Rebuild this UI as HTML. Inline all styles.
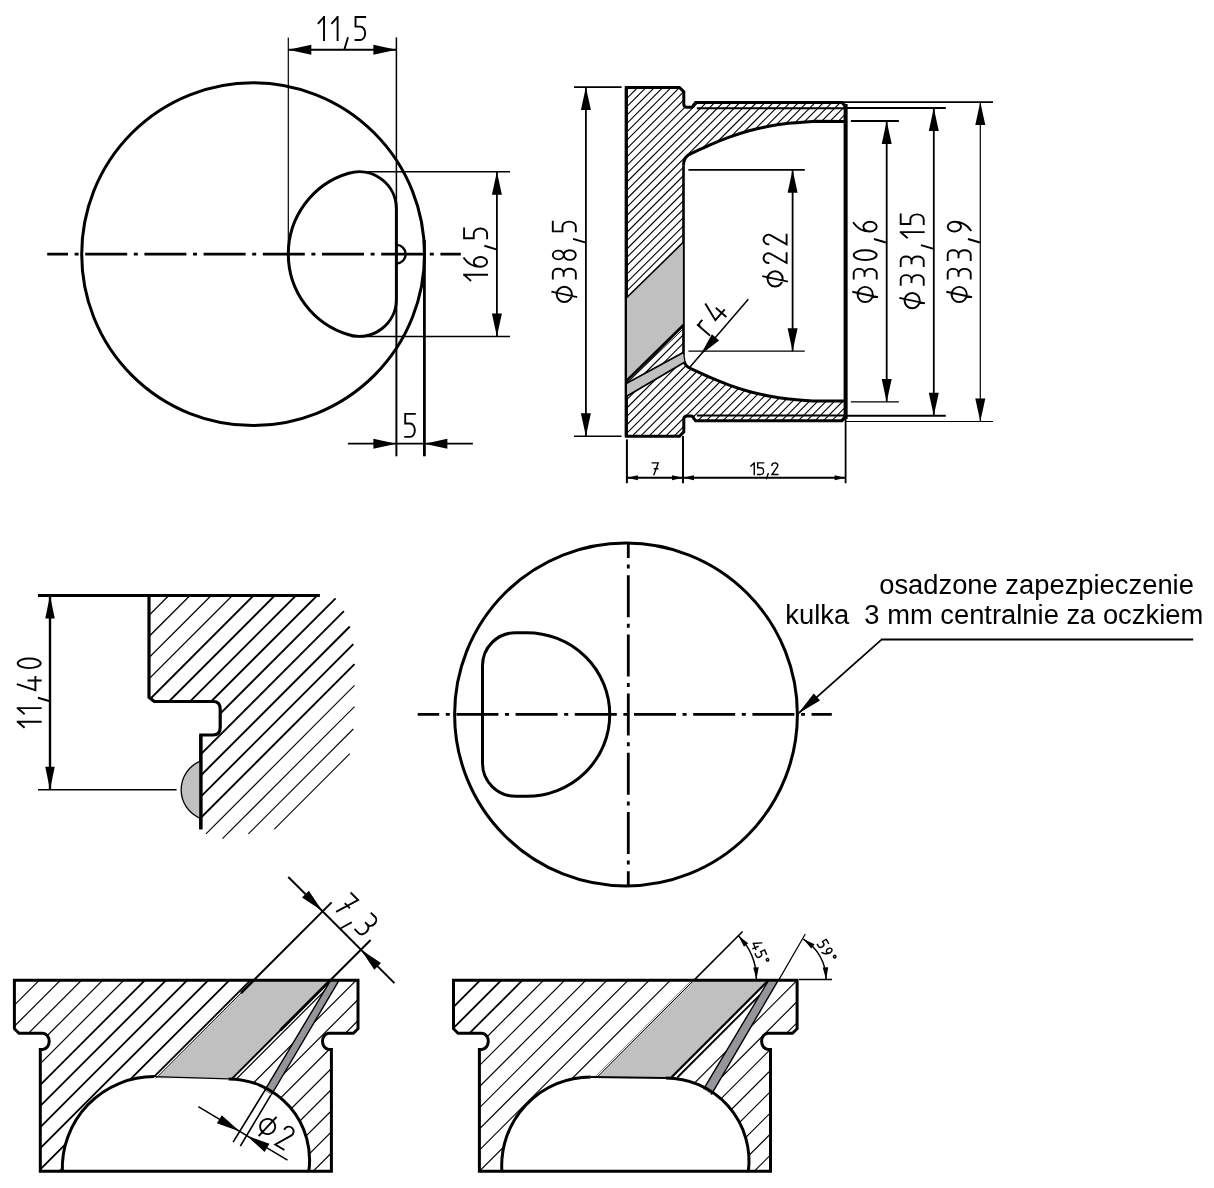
<!DOCTYPE html>
<html><head><meta charset="utf-8"><title>drawing</title>
<style>html,body{margin:0;padding:0;background:#fff;}body{width:1214px;height:1188px;overflow:hidden;font-family:"Liberation Sans",sans-serif;}svg{display:block;}.t{font-family:"Liberation Sans",sans-serif;fill:#000;stroke:none;}</style></head><body>
<svg width="1214" height="1188" viewBox="0 0 1214 1188" stroke="#000" fill="none" stroke-linecap="butt" shape-rendering="geometricPrecision">
<defs><clipPath id="cB"><path clip-rule="evenodd" d="M626.3,87.4 L679.4,87.4 L683.8,91.6 L683.8,104.2 Q683.8,107.3 687.3,107.3 L690.5,107.3 Q693.6,107.3 693.6,105 L695.6,102.6 L842,102.6 L845.6,106.2 L845.6,417.1 L842,420.7 L695.6,420.7 L693.6,418.3 Q693.6,416 690.5,416 L687.3,416 Q683.8,416 683.8,419.1 L683.8,431.9 L679.4,436.2 L626.3,436.2 Z M683.5,165.4 Q683.5,156.3 691.3,153.5 C694.33,152.1 703.17,147.82 709.5,145.1 C715.83,142.38 722.7,139.58 729.3,137.2 C735.9,134.82 742.52,132.62 749.1,130.8 C755.68,128.98 762.22,127.55 768.8,126.3 C775.38,125.05 781.07,124.13 788.6,123.3 C796.13,122.47 809.77,121.63 814,121.3 L845.6,121.3 L845.6,401.0 L814,401.0 C809.77,400.67 796.13,399.83 788.6,399 C781.07,398.17 775.38,397.25 768.8,396 C762.22,394.75 755.68,393.32 749.1,391.5 C742.52,389.68 735.9,387.48 729.3,385.1 C722.7,382.72 715.83,379.92 709.5,377.2 C703.17,374.48 694.33,370.2 691.3,368.8 Q683.5,365.8 683.5,356.9 Z"/></clipPath>
<clipPath id="cC1"><path d="M149,595.9 L319.9,595.9 L500,595.9 L500,900 L200.8,900 L200.8,735 L213.1,735 Q220.2,735 220.2,727.5 L220.2,709 Q220.2,701.5 213.1,701.5 L154.2,701.5 L149,697.3 Z"/></clipPath>
<filter id="nolcd" x="-5%" y="-20%" width="110%" height="140%"><feOffset dx="0" dy="0"/></filter>
<clipPath id="cE"><path d="M14.4,980.3 L358,980.3 L358,1028.7 L353.4,1033.2 L329,1033.2 A6.5,8.1 0 1 0 329,1049.4 L331.4,1049.4 L331.4,1171.3 L308.81,1171.3 A81.1,81.1 0 0 0 228.5,1078.9 L154,1076.6 A91.7,91.7 0 0 0 62.35,1171.3 L40.3,1171.3 L40.3,1049.4 L42.7,1049.4 A6.5,8.1 0 1 0 42.7,1033.2 L19,1033.2 L14.4,1028.7 Z"/></clipPath>
<clipPath id="cF"><path d="M453.5,980.3 L797.1,980.3 L797.1,1028.7 L792.5,1033.2 L768.1,1033.2 A6.5,8.1 0 1 0 768.1,1049.4 L770.5,1049.4 L770.5,1171.3 L748.37,1171.3 A83.1,83.1 0 0 0 665.9,1078 L590.7,1076.9 A89,89 0 0 0 501.86,1171.3 L479.4,1171.3 L479.4,1049.4 L481.8,1049.4 A6.5,8.1 0 1 0 481.8,1033.2 L458.1,1033.2 L453.5,1028.7 Z"/></clipPath></defs>
<circle cx="253.1" cy="254.2" r="171.4" stroke-width="3"/>
<path d="M396.4,208.97 L396.4,299.13 A37.2,37.2 0 0 1 348.67,334.81 A84.2,84.2 0 0 1 348.67,173.29 A37.2,37.2 0 0 1 396.4,208.97 Z" stroke-width="3" fill="none" />
<path d="M396.4,244.9 A9.3,9.3 0 0 1 396.4,263.5" stroke-width="2.4" fill="none" />
<line x1="47.2" y1="254.2" x2="460.8" y2="254.2" stroke-width="2.8" stroke-dasharray="42 6.6 4 6.6" stroke-dashoffset="21.2"/>
<line x1="288.3" y1="37.4" x2="288.3" y2="254" stroke-width="1.2" />
<line x1="396.4" y1="37.4" x2="396.4" y2="207" stroke-width="1.5" />
<line x1="396.4" y1="301" x2="396.4" y2="456.3" stroke-width="2" />
<line x1="424.4" y1="240" x2="424.4" y2="456.3" stroke-width="2.8" />
<line x1="288.3" y1="49.7" x2="396.4" y2="49.7" stroke-width="2" />
<polygon points="288.3,49.7 311.3,44.7 311.3,54.7" fill="#000" stroke="none"/>
<polygon points="396.4,49.7 373.4,54.7 373.4,44.7" fill="#000" stroke="none"/>
<g transform="translate(318.5,40) rotate(0)" stroke-linecap="square" stroke-linejoin="miter" fill="none">
<path transform="translate(0,0) scale(2.3,2.3)" d="M0,-7.3 L2.15,-9.72 M2.4,-10 L2.4,0" stroke-width="1.9" vector-effect="non-scaling-stroke"/>
<path transform="translate(13.57,0) scale(2.3,2.3)" d="M0,-7.3 L2.15,-9.72 M2.4,-10 L2.4,0" stroke-width="1.9" vector-effect="non-scaling-stroke"/>
<path transform="translate(27.14,0) scale(2.3,2.3)" d="M0.9,-0.8 L-0.4,3.6" stroke-width="1.9" vector-effect="non-scaling-stroke"/>
<path transform="translate(37.03,0) scale(2.3,2.3)" d="M4.2,-10 L0,-10 L0,-5.8 L2.1,-5.8 A2.1,2.9 0 0 1 2.1,0 L0,0" stroke-width="1.9" vector-effect="non-scaling-stroke"/>
</g>
<line x1="356" y1="171.7" x2="510" y2="171.7" stroke-width="1.5" />
<line x1="351" y1="336.4" x2="510" y2="336.4" stroke-width="1.5" />
<line x1="496.9" y1="171.7" x2="496.9" y2="336.4" stroke-width="1.8" />
<polygon points="496.9,171.7 501.9,194.7 491.9,194.7" fill="#000" stroke="none"/>
<polygon points="496.9,336.4 491.9,313.4 501.9,313.4" fill="#000" stroke="none"/>
<g transform="translate(487.1,280.3) rotate(-90)" stroke-linecap="square" stroke-linejoin="miter" fill="none">
<path transform="translate(0,0) scale(2.3,2.3)" d="M0,-7.3 L2.15,-9.72 M2.4,-10 L2.4,0" stroke-width="1.9" vector-effect="non-scaling-stroke"/>
<path transform="translate(13.57,0) scale(2.3,2.3)" d="M3.7,-10 C1.6,-8.6 0,-6 0,-2.9 A2.1,2.9 0 1 0 4.2,-2.9 A2.1,2.9 0 1 0 0,-2.9" stroke-width="1.9" vector-effect="non-scaling-stroke"/>
<path transform="translate(32.2,0) scale(2.3,2.3)" d="M0.9,-0.8 L-0.4,3.6" stroke-width="1.9" vector-effect="non-scaling-stroke"/>
<path transform="translate(42.09,0) scale(2.3,2.3)" d="M4.2,-10 L0,-10 L0,-5.8 L2.1,-5.8 A2.1,2.9 0 0 1 2.1,0 L0,0" stroke-width="1.9" vector-effect="non-scaling-stroke"/>
</g>
<line x1="347.9" y1="443.7" x2="472.9" y2="443.7" stroke-width="1.8" />
<polygon points="396.4,443.7 373.4,448.7 373.4,438.7" fill="#000" stroke="none"/>
<polygon points="424.4,443.7 447.4,438.7 447.4,448.7" fill="#000" stroke="none"/>
<g transform="translate(405.2,436.9) rotate(0)" stroke-linecap="square" stroke-linejoin="miter" fill="none">
<path transform="translate(0,0) scale(2.3,2.3)" d="M4.2,-10 L0,-10 L0,-5.8 L2.1,-5.8 A2.1,2.9 0 0 1 2.1,0 L0,0" stroke-width="1.9" vector-effect="non-scaling-stroke"/>
</g>
<g clip-path="url(#cB)">
<line x1="620.09" y1="80" x2="260.09" y2="440" stroke-width="1.1" />
<line x1="628.46" y1="80" x2="268.46" y2="440" stroke-width="1.1" />
<line x1="636.83" y1="80" x2="276.83" y2="440" stroke-width="1.1" />
<line x1="645.2" y1="80" x2="285.2" y2="440" stroke-width="1.1" />
<line x1="653.57" y1="80" x2="293.57" y2="440" stroke-width="1.1" />
<line x1="661.94" y1="80" x2="301.94" y2="440" stroke-width="1.1" />
<line x1="670.31" y1="80" x2="310.31" y2="440" stroke-width="1.1" />
<line x1="678.68" y1="80" x2="318.68" y2="440" stroke-width="1.1" />
<line x1="687.05" y1="80" x2="327.05" y2="440" stroke-width="1.1" />
<line x1="695.42" y1="80" x2="335.42" y2="440" stroke-width="1.1" />
<line x1="703.79" y1="80" x2="343.79" y2="440" stroke-width="1.1" />
<line x1="712.16" y1="80" x2="352.16" y2="440" stroke-width="1.1" />
<line x1="720.53" y1="80" x2="360.53" y2="440" stroke-width="1.1" />
<line x1="728.9" y1="80" x2="368.9" y2="440" stroke-width="1.1" />
<line x1="737.27" y1="80" x2="377.27" y2="440" stroke-width="1.1" />
<line x1="745.64" y1="80" x2="385.64" y2="440" stroke-width="1.1" />
<line x1="754.01" y1="80" x2="394.01" y2="440" stroke-width="1.1" />
<line x1="762.38" y1="80" x2="402.38" y2="440" stroke-width="1.1" />
<line x1="770.75" y1="80" x2="410.75" y2="440" stroke-width="1.1" />
<line x1="779.12" y1="80" x2="419.12" y2="440" stroke-width="1.1" />
<line x1="787.49" y1="80" x2="427.49" y2="440" stroke-width="1.1" />
<line x1="795.86" y1="80" x2="435.86" y2="440" stroke-width="1.1" />
<line x1="804.23" y1="80" x2="444.23" y2="440" stroke-width="1.1" />
<line x1="812.6" y1="80" x2="452.6" y2="440" stroke-width="1.1" />
<line x1="820.97" y1="80" x2="460.97" y2="440" stroke-width="1.1" />
<line x1="829.34" y1="80" x2="469.34" y2="440" stroke-width="1.1" />
<line x1="837.71" y1="80" x2="477.71" y2="440" stroke-width="1.1" />
<line x1="846.08" y1="80" x2="486.08" y2="440" stroke-width="1.1" />
<line x1="854.45" y1="80" x2="494.45" y2="440" stroke-width="1.1" />
<line x1="862.82" y1="80" x2="502.82" y2="440" stroke-width="1.1" />
<line x1="871.19" y1="80" x2="511.19" y2="440" stroke-width="1.1" />
<line x1="879.56" y1="80" x2="519.56" y2="440" stroke-width="1.1" />
<line x1="887.93" y1="80" x2="527.93" y2="440" stroke-width="1.1" />
<line x1="896.3" y1="80" x2="536.3" y2="440" stroke-width="1.1" />
<line x1="904.67" y1="80" x2="544.67" y2="440" stroke-width="1.1" />
<line x1="913.04" y1="80" x2="553.04" y2="440" stroke-width="1.1" />
<line x1="921.41" y1="80" x2="561.41" y2="440" stroke-width="1.1" />
<line x1="929.78" y1="80" x2="569.78" y2="440" stroke-width="1.1" />
<line x1="938.15" y1="80" x2="578.15" y2="440" stroke-width="1.1" />
<line x1="946.52" y1="80" x2="586.52" y2="440" stroke-width="1.1" />
<line x1="954.89" y1="80" x2="594.89" y2="440" stroke-width="1.1" />
<line x1="963.26" y1="80" x2="603.26" y2="440" stroke-width="1.1" />
<line x1="971.63" y1="80" x2="611.63" y2="440" stroke-width="1.1" />
<line x1="980" y1="80" x2="620" y2="440" stroke-width="1.1" />
<line x1="988.37" y1="80" x2="628.37" y2="440" stroke-width="1.1" />
<line x1="996.74" y1="80" x2="636.74" y2="440" stroke-width="1.1" />
<line x1="1005.11" y1="80" x2="645.11" y2="440" stroke-width="1.1" />
<line x1="1013.48" y1="80" x2="653.48" y2="440" stroke-width="1.1" />
<line x1="1021.85" y1="80" x2="661.85" y2="440" stroke-width="1.1" />
<line x1="1030.22" y1="80" x2="670.22" y2="440" stroke-width="1.1" />
<line x1="1038.59" y1="80" x2="678.59" y2="440" stroke-width="1.1" />
<line x1="1046.96" y1="80" x2="686.96" y2="440" stroke-width="1.1" />
<line x1="1055.33" y1="80" x2="695.33" y2="440" stroke-width="1.1" />
<line x1="1063.7" y1="80" x2="703.7" y2="440" stroke-width="1.1" />
<line x1="1072.07" y1="80" x2="712.07" y2="440" stroke-width="1.1" />
<line x1="1080.44" y1="80" x2="720.44" y2="440" stroke-width="1.1" />
<line x1="1088.81" y1="80" x2="728.81" y2="440" stroke-width="1.1" />
<line x1="1097.18" y1="80" x2="737.18" y2="440" stroke-width="1.1" />
<line x1="1105.55" y1="80" x2="745.55" y2="440" stroke-width="1.1" />
<line x1="1113.92" y1="80" x2="753.92" y2="440" stroke-width="1.1" />
<line x1="1122.29" y1="80" x2="762.29" y2="440" stroke-width="1.1" />
<line x1="1130.66" y1="80" x2="770.66" y2="440" stroke-width="1.1" />
<line x1="1139.03" y1="80" x2="779.03" y2="440" stroke-width="1.1" />
<line x1="1147.4" y1="80" x2="787.4" y2="440" stroke-width="1.1" />
<line x1="1155.77" y1="80" x2="795.77" y2="440" stroke-width="1.1" />
<line x1="1164.14" y1="80" x2="804.14" y2="440" stroke-width="1.1" />
<line x1="1172.51" y1="80" x2="812.51" y2="440" stroke-width="1.1" />
<line x1="1180.88" y1="80" x2="820.88" y2="440" stroke-width="1.1" />
<line x1="1189.25" y1="80" x2="829.25" y2="440" stroke-width="1.1" />
<line x1="1197.62" y1="80" x2="837.62" y2="440" stroke-width="1.1" />
<line x1="1205.99" y1="80" x2="845.99" y2="440" stroke-width="1.1" />
</g>
<path d="M626.3,87.4 L679.4,87.4 L683.8,91.6 L683.8,104.2 Q683.8,107.3 687.3,107.3 L690.5,107.3 Q693.6,107.3 693.6,105 L695.6,102.6 L842,102.6 L845.6,106.2 L845.6,417.1 L842,420.7 L695.6,420.7 L693.6,418.3 Q693.6,416 690.5,416 L687.3,416 Q683.8,416 683.8,419.1 L683.8,431.9 L679.4,436.2 L626.3,436.2 Z" stroke-width="3" fill="none" stroke-linejoin="miter"/>
<path d="M683.5,165.4 Q683.5,156.3 691.3,153.5 C694.33,152.1 703.17,147.82 709.5,145.1 C715.83,142.38 722.7,139.58 729.3,137.2 C735.9,134.82 742.52,132.62 749.1,130.8 C755.68,128.98 762.22,127.55 768.8,126.3 C775.38,125.05 781.07,124.13 788.6,123.3 C796.13,122.47 809.77,121.63 814,121.3 L845,121.4" stroke-width="3" fill="none" />
<path d="M683.5,356.9 Q683.5,365.8 691.3,368.8 C694.33,370.2 703.17,374.48 709.5,377.2 C715.83,379.92 722.7,382.72 729.3,385.1 C735.9,387.48 742.52,389.68 749.1,391.5 C755.68,393.32 762.22,394.75 768.8,396 C775.38,397.25 781.07,398.17 788.6,399 C796.13,399.83 809.77,400.67 814,401 L845,401.0" stroke-width="3" fill="none" />
<line x1="683.5" y1="165.4" x2="683.5" y2="356.9" stroke-width="2.6" />
<line x1="845.6" y1="104" x2="845.6" y2="419" stroke-width="4" />
<line x1="626.3" y1="87.4" x2="626.3" y2="436.2" stroke-width="3" />
<polygon points="627,297.3 682.9,242.6 682.9,325.4 627,380.2" fill="#c0c0c0" stroke="none" stroke-width="0"/>
<polygon points="627,383 682.9,352.6 684.4,362.3 627,396" fill="#c0c0c0" stroke="none" stroke-width="0"/>
<line x1="626.3" y1="298" x2="683.7" y2="241.8" stroke-width="1.6" />
<line x1="626.3" y1="380.9" x2="683.7" y2="324.7" stroke-width="2.4" />
<line x1="626.3" y1="383.6" x2="683.7" y2="328.5" stroke-width="0.9" />
<line x1="626.3" y1="383.4" x2="683.7" y2="352.2" stroke-width="1.7" />
<line x1="626.3" y1="396.4" x2="685" y2="361.9" stroke-width="1.7" />
<line x1="696.8" y1="108.2" x2="844" y2="108.2" stroke-width="2" />
<line x1="696.8" y1="415.6" x2="844" y2="415.6" stroke-width="2" />
<line x1="574" y1="87.2" x2="621.6" y2="87.2" stroke-width="1.8" />
<line x1="574" y1="436.2" x2="621.6" y2="436.2" stroke-width="1.5" />
<line x1="585.9" y1="86.9" x2="585.9" y2="436.2" stroke-width="1.8" />
<polygon points="585.9,86.9 590.9,109.9 580.9,109.9" fill="#000" stroke="none"/>
<polygon points="585.9,436.2 580.9,413.2 590.9,413.2" fill="#000" stroke="none"/>
<g transform="translate(575.8,302.4) rotate(-90)" stroke-linecap="square" stroke-linejoin="miter" fill="none">
<path transform="translate(0,0) scale(2.3,2.3)" d="M3.5,-8.3 A3.3,3.3 0 1 1 3.5,-1.7 A3.3,3.3 0 1 1 3.5,-8.3 M2.4,0.2 L4.6,-10.2" stroke-width="1.9" vector-effect="non-scaling-stroke"/>
<path transform="translate(23.92,0) scale(2.3,2.3)" d="M0,-10 L2.3,-10 A1.9,2.35 0 0 1 2.3,-5.3 L1.2,-5.3 M2.3,-5.3 A1.9,2.65 0 0 1 2.3,0 L0,0" stroke-width="1.9" vector-effect="non-scaling-stroke"/>
<path transform="translate(42.55,0) scale(2.3,2.3)" d="M2.1,-5.2 A1.9,2.4 0 1 1 2.1,-10 A1.9,2.4 0 1 1 2.1,-5.2 A2.1,2.6 0 1 1 2.1,0 A2.1,2.6 0 1 1 2.1,-5.2" stroke-width="1.9" vector-effect="non-scaling-stroke"/>
<path transform="translate(61.18,0) scale(2.3,2.3)" d="M0.9,-0.8 L-0.4,3.6" stroke-width="1.9" vector-effect="non-scaling-stroke"/>
<path transform="translate(71.07,0) scale(2.3,2.3)" d="M4.2,-10 L0,-10 L0,-5.8 L2.1,-5.8 A2.1,2.9 0 0 1 2.1,0 L0,0" stroke-width="1.9" vector-effect="non-scaling-stroke"/>
</g>
<line x1="688.4" y1="169.8" x2="804.8" y2="169.8" stroke-width="1.8" />
<line x1="688.4" y1="351.2" x2="804.8" y2="351.2" stroke-width="1.2" />
<line x1="792.6" y1="169.8" x2="792.6" y2="351.2" stroke-width="1.8" />
<polygon points="792.6,169.8 797.6,192.8 787.6,192.8" fill="#000" stroke="none"/>
<polygon points="792.6,351.2 787.6,328.2 797.6,328.2" fill="#000" stroke="none"/>
<g transform="translate(786.6,286.9) rotate(-90)" stroke-linecap="square" stroke-linejoin="miter" fill="none">
<path transform="translate(0,0) scale(2.3,2.3)" d="M3.5,-8.3 A3.3,3.3 0 1 1 3.5,-1.7 A3.3,3.3 0 1 1 3.5,-8.3 M2.4,0.2 L4.6,-10.2" stroke-width="1.9" vector-effect="non-scaling-stroke"/>
<path transform="translate(23.92,0) scale(2.3,2.3)" d="M0,-7.9 A2.1,2.1 0 1 1 3.92,-6.85 L0,0 L4.2,0" stroke-width="1.9" vector-effect="non-scaling-stroke"/>
<path transform="translate(42.55,0) scale(2.3,2.3)" d="M0,-7.9 A2.1,2.1 0 1 1 3.92,-6.85 L0,0 L4.2,0" stroke-width="1.9" vector-effect="non-scaling-stroke"/>
</g>
<line x1="850.9" y1="121" x2="898.9" y2="121" stroke-width="1.8" />
<line x1="850.9" y1="401.9" x2="898.9" y2="401.9" stroke-width="1.3" />
<line x1="886.7" y1="121" x2="886.7" y2="401.9" stroke-width="1.8" />
<polygon points="886.7,121 891.7,144 881.7,144" fill="#000" stroke="none"/>
<polygon points="886.7,401.9 881.7,378.9 891.7,378.9" fill="#000" stroke="none"/>
<g transform="translate(876.7,302.5) rotate(-90)" stroke-linecap="square" stroke-linejoin="miter" fill="none">
<path transform="translate(0,0) scale(2.3,2.3)" d="M3.5,-8.3 A3.3,3.3 0 1 1 3.5,-1.7 A3.3,3.3 0 1 1 3.5,-8.3 M2.4,0.2 L4.6,-10.2" stroke-width="1.9" vector-effect="non-scaling-stroke"/>
<path transform="translate(23.92,0) scale(2.3,2.3)" d="M0,-10 L2.3,-10 A1.9,2.35 0 0 1 2.3,-5.3 L1.2,-5.3 M2.3,-5.3 A1.9,2.65 0 0 1 2.3,0 L0,0" stroke-width="1.9" vector-effect="non-scaling-stroke"/>
<path transform="translate(42.55,0) scale(2.3,2.3)" d="M2.1,-10 A2.1,5 0 1 1 2.1,0 A2.1,5 0 1 1 2.1,-10 Z" stroke-width="1.9" vector-effect="non-scaling-stroke"/>
<path transform="translate(61.18,0) scale(2.3,2.3)" d="M0.9,-0.8 L-0.4,3.6" stroke-width="1.9" vector-effect="non-scaling-stroke"/>
<path transform="translate(71.07,0) scale(2.3,2.3)" d="M3.7,-10 C1.6,-8.6 0,-6 0,-2.9 A2.1,2.9 0 1 0 4.2,-2.9 A2.1,2.9 0 1 0 0,-2.9" stroke-width="1.9" vector-effect="non-scaling-stroke"/>
</g>
<line x1="846" y1="108" x2="945.8" y2="108" stroke-width="2" />
<line x1="846" y1="415.8" x2="945.8" y2="415.8" stroke-width="2" />
<line x1="933.8" y1="108" x2="933.8" y2="415.8" stroke-width="1.8" />
<polygon points="933.8,108 938.8,131 928.8,131" fill="#000" stroke="none"/>
<polygon points="933.8,415.8 928.8,392.8 938.8,392.8" fill="#000" stroke="none"/>
<g transform="translate(923.7,308.7) rotate(-90)" stroke-linecap="square" stroke-linejoin="miter" fill="none">
<path transform="translate(0,0) scale(2.3,2.3)" d="M3.5,-8.3 A3.3,3.3 0 1 1 3.5,-1.7 A3.3,3.3 0 1 1 3.5,-8.3 M2.4,0.2 L4.6,-10.2" stroke-width="1.9" vector-effect="non-scaling-stroke"/>
<path transform="translate(23.92,0) scale(2.3,2.3)" d="M0,-10 L2.3,-10 A1.9,2.35 0 0 1 2.3,-5.3 L1.2,-5.3 M2.3,-5.3 A1.9,2.65 0 0 1 2.3,0 L0,0" stroke-width="1.9" vector-effect="non-scaling-stroke"/>
<path transform="translate(42.55,0) scale(2.3,2.3)" d="M0,-10 L2.3,-10 A1.9,2.35 0 0 1 2.3,-5.3 L1.2,-5.3 M2.3,-5.3 A1.9,2.65 0 0 1 2.3,0 L0,0" stroke-width="1.9" vector-effect="non-scaling-stroke"/>
<path transform="translate(61.18,0) scale(2.3,2.3)" d="M0.9,-0.8 L-0.4,3.6" stroke-width="1.9" vector-effect="non-scaling-stroke"/>
<path transform="translate(71.07,0) scale(2.3,2.3)" d="M0,-7.3 L2.15,-9.72 M2.4,-10 L2.4,0" stroke-width="1.9" vector-effect="non-scaling-stroke"/>
<path transform="translate(84.64,0) scale(2.3,2.3)" d="M4.2,-10 L0,-10 L0,-5.8 L2.1,-5.8 A2.1,2.9 0 0 1 2.1,0 L0,0" stroke-width="1.9" vector-effect="non-scaling-stroke"/>
</g>
<line x1="843" y1="102.1" x2="993" y2="102.1" stroke-width="1.9" />
<line x1="846" y1="421.5" x2="993" y2="421.5" stroke-width="1.2" />
<line x1="980.3" y1="102.1" x2="980.3" y2="421.5" stroke-width="1.2" />
<polygon points="980.3,102.1 985.3,125.1 975.3,125.1" fill="#000" stroke="none"/>
<polygon points="980.3,421.5 975.3,398.5 985.3,398.5" fill="#000" stroke="none"/>
<g transform="translate(970.7,302.5) rotate(-90)" stroke-linecap="square" stroke-linejoin="miter" fill="none">
<path transform="translate(0,0) scale(2.3,2.3)" d="M3.5,-8.3 A3.3,3.3 0 1 1 3.5,-1.7 A3.3,3.3 0 1 1 3.5,-8.3 M2.4,0.2 L4.6,-10.2" stroke-width="1.9" vector-effect="non-scaling-stroke"/>
<path transform="translate(23.92,0) scale(2.3,2.3)" d="M0,-10 L2.3,-10 A1.9,2.35 0 0 1 2.3,-5.3 L1.2,-5.3 M2.3,-5.3 A1.9,2.65 0 0 1 2.3,0 L0,0" stroke-width="1.9" vector-effect="non-scaling-stroke"/>
<path transform="translate(42.55,0) scale(2.3,2.3)" d="M0,-10 L2.3,-10 A1.9,2.35 0 0 1 2.3,-5.3 L1.2,-5.3 M2.3,-5.3 A1.9,2.65 0 0 1 2.3,0 L0,0" stroke-width="1.9" vector-effect="non-scaling-stroke"/>
<path transform="translate(61.18,0) scale(2.3,2.3)" d="M0.9,-0.8 L-0.4,3.6" stroke-width="1.9" vector-effect="non-scaling-stroke"/>
<path transform="translate(71.07,0) scale(2.3,2.3)" d="M0.5,0 C2.6,-1.4 4.2,-4 4.2,-7.1 A2.1,2.9 0 1 0 0,-7.1 A2.1,2.9 0 1 0 4.2,-7.1" stroke-width="1.9" vector-effect="non-scaling-stroke"/>
</g>
<line x1="748.3" y1="299.3" x2="688.5" y2="368.8" stroke-width="1.5" />
<polygon points="700.5,354.8 711.9,334.27 719.1,340.46" fill="#000" stroke="none"/>
<g transform="translate(709.4,335.1) rotate(-49)" stroke-linecap="square" stroke-linejoin="miter" fill="none">
<path transform="translate(0,0) scale(2.3,2.3)" d="M0,0 L0,-6.7 M0,-5.3 Q0.1,-6.7 1.5,-6.7 L2.6,-6.7" stroke-width="1.9" vector-effect="non-scaling-stroke"/>
<path transform="translate(15.18,0) scale(2.3,2.3)" d="M2.5,-10 L0,-2.3 L5.8,-2.3 M4.2,-5.3 L4.2,0" stroke-width="1.9" vector-effect="non-scaling-stroke"/>
</g>
<line x1="626.9" y1="439.4" x2="626.9" y2="483.2" stroke-width="2" />
<line x1="683" y1="436" x2="683" y2="483.2" stroke-width="2" />
<line x1="845.6" y1="419" x2="845.6" y2="483.2" stroke-width="1.8" />
<line x1="626.9" y1="477.7" x2="845.6" y2="477.7" stroke-width="2" />
<polygon points="626.9,477.7 637.9,475.2 637.9,480.2" fill="#000" stroke="none"/>
<polygon points="683,477.7 672,480.2 672,475.2" fill="#000" stroke="none"/>
<polygon points="683,477.7 694,475.2 694,480.2" fill="#000" stroke="none"/>
<polygon points="845.6,477.7 834.6,480.2 834.6,475.2" fill="#000" stroke="none"/>
<g transform="translate(652.3,474.5) rotate(0)" stroke-linecap="square" stroke-linejoin="miter" fill="none">
<path transform="translate(0,0) scale(1.4,1.16)" d="M0,-10 L4.2,-10 L1.2,0 M1.5,-4.9 L3.9,-4.9" stroke-width="1.4" vector-effect="non-scaling-stroke"/>
</g>
<g transform="translate(750.9,474.5) rotate(0)" stroke-linecap="square" stroke-linejoin="miter" fill="none">
<path transform="translate(0,0) scale(1.4,1.16)" d="M0,-7.3 L2.15,-9.72 M2.4,-10 L2.4,0" stroke-width="1.4" vector-effect="non-scaling-stroke"/>
<path transform="translate(6.79,0) scale(1.4,1.16)" d="M4.2,-10 L0,-10 L0,-5.8 L2.1,-5.8 A2.1,2.9 0 0 1 2.1,0 L0,0" stroke-width="1.4" vector-effect="non-scaling-stroke"/>
<path transform="translate(16.1,0) scale(1.4,1.16)" d="M0.9,-0.8 L-0.4,3.6" stroke-width="1.4" vector-effect="non-scaling-stroke"/>
<path transform="translate(21.05,0) scale(1.4,1.16)" d="M0,-7.9 A2.1,2.1 0 1 1 3.92,-6.85 L0,0 L4.2,0" stroke-width="1.4" vector-effect="non-scaling-stroke"/>
</g>
<g clip-path="url(#cC1)">
<line x1="100" y1="664.3" x2="400" y2="364.3" stroke-width="1.3" />
<line x1="100" y1="685.5" x2="400" y2="385.5" stroke-width="1.3" />
<line x1="100" y1="706.7" x2="400" y2="406.7" stroke-width="1.3" />
<line x1="100" y1="727.9" x2="400" y2="427.9" stroke-width="1.3" />
<line x1="100" y1="749.1" x2="400" y2="449.1" stroke-width="1.9" />
<line x1="100" y1="770.3" x2="400" y2="470.3" stroke-width="1.9" />
<line x1="100" y1="791.5" x2="400" y2="491.5" stroke-width="1.9" />
<line x1="100" y1="812.7" x2="400" y2="512.7" stroke-width="1.9" />
<line x1="100" y1="833.9" x2="335.6" y2="598.3" stroke-width="1.9" />
<line x1="100" y1="855.1" x2="343.9" y2="611.2" stroke-width="1.9" />
<line x1="100" y1="876.3" x2="349.8" y2="626.5" stroke-width="1.9" />
<line x1="100" y1="897.5" x2="353.3" y2="644.2" stroke-width="1.9" />
<line x1="100" y1="918.7" x2="354.5" y2="664.2" stroke-width="1.9" />
<line x1="206" y1="833.9" x2="354.5" y2="685.4" stroke-width="1.1" />
<line x1="222.5" y1="838.6" x2="354.5" y2="706.6" stroke-width="1.1" />
<line x1="248.4" y1="833.9" x2="353.3" y2="729" stroke-width="1.1" />
<line x1="274.4" y1="829.1" x2="349.8" y2="753.7" stroke-width="1.1" />
</g>
<path d="M149,595.9 L149,697.3 L154.2,701.5 L213.1,701.5 Q220.2,701.5 220.2,709 L220.2,727.5 Q220.2,735 213.1,735 L200.8,735 L200.8,829.3" stroke-width="3.2" fill="none" stroke-linejoin="miter"/>
<line x1="38" y1="595.6" x2="319.9" y2="595.6" stroke-width="3" />
<path d="M200.8,760.9 A31,31 0 0 0 200.8,818.6 Z" stroke-width="1.3" fill="#c0c0c0" />
<line x1="200.8" y1="735" x2="200.8" y2="829.3" stroke-width="3.2" />
<line x1="38" y1="789.8" x2="176.6" y2="789.8" stroke-width="1.5" />
<line x1="50" y1="595.6" x2="50" y2="789.8" stroke-width="2.4" />
<polygon points="50,595.6 54.75,618.6 45.25,618.6" fill="#000" stroke="none"/>
<polygon points="50,789.8 45.25,766.8 54.75,766.8" fill="#000" stroke="none"/>
<g transform="translate(40.7,727.2) rotate(-90)" stroke-linecap="square" stroke-linejoin="miter" fill="none">
<path transform="translate(0,0) scale(2.3,2.3)" d="M0,-7.3 L2.15,-9.72 M2.4,-10 L2.4,0" stroke-width="1.9" vector-effect="non-scaling-stroke"/>
<path transform="translate(13.57,0) scale(2.3,2.3)" d="M0,-7.3 L2.15,-9.72 M2.4,-10 L2.4,0" stroke-width="1.9" vector-effect="non-scaling-stroke"/>
<path transform="translate(27.14,0) scale(2.3,2.3)" d="M0.9,-0.8 L-0.4,3.6" stroke-width="1.9" vector-effect="non-scaling-stroke"/>
<path transform="translate(37.03,0) scale(2.3,2.3)" d="M2.5,-10 L0,-2.3 L5.8,-2.3 M4.2,-5.3 L4.2,0" stroke-width="1.9" vector-effect="non-scaling-stroke"/>
<path transform="translate(59.11,0) scale(2.3,2.3)" d="M2.1,-10 A2.1,5 0 1 1 2.1,0 A2.1,5 0 1 1 2.1,-10 Z" stroke-width="1.9" vector-effect="non-scaling-stroke"/>
</g>
<circle cx="626.0" cy="714.5" r="171.4" stroke-width="3"/>
<path d="M482.5,665.7 A33,33 0 0 1 515.5,632.7 L526.6,632.7 A83.2,81.8 0 0 1 526.6,796.3 L515.5,796.3 A33,33 0 0 1 482.5,763.3 Z" stroke-width="3" fill="none" />
<line x1="417.7" y1="714.4" x2="831.8" y2="714.4" stroke-width="2.8" stroke-dasharray="42 6.6 4 6.6" stroke-dashoffset="20.5"/>
<line x1="628.3" y1="543.4" x2="628.3" y2="885.6" stroke-width="2.8" stroke-dasharray="42 6.6 4 6.6" stroke-dashoffset="27.4"/>
<line x1="798.5" y1="713.3" x2="881.8" y2="639.4" stroke-width="1.8" />
<line x1="881" y1="639.4" x2="1193.2" y2="639.4" stroke-width="2" />
<polygon points="798.2,713.6 813.74,693.45 820.05,700.55" fill="#000" stroke="none"/>
<text class="t" filter="url(#nolcd)" x="879.2" y="593.7" font-size="27.35">osadzone zapezpieczenie</text>
<text class="t" filter="url(#nolcd)" x="785.3" y="623.6" font-size="27.35" xml:space="preserve">kulka  3 mm centralnie za oczkiem</text>
<g clip-path="url(#cE)">
<line x1="44.5" y1="975" x2="-160.5" y2="1180" stroke-width="1.2" />
<line x1="65.63" y1="975" x2="-139.37" y2="1180" stroke-width="1.2" />
<line x1="86.76" y1="975" x2="-118.24" y2="1180" stroke-width="1.2" />
<line x1="107.89" y1="975" x2="-97.11" y2="1180" stroke-width="1.2" />
<line x1="129.02" y1="975" x2="-75.98" y2="1180" stroke-width="1.2" />
<line x1="150.15" y1="975" x2="-54.85" y2="1180" stroke-width="1.8" />
<line x1="171.28" y1="975" x2="-33.72" y2="1180" stroke-width="1.8" />
<line x1="192.41" y1="975" x2="-12.59" y2="1180" stroke-width="1.8" />
<line x1="213.54" y1="975" x2="8.54" y2="1180" stroke-width="1.8" />
<line x1="234.67" y1="975" x2="29.67" y2="1180" stroke-width="1.8" />
<line x1="255.8" y1="975" x2="50.8" y2="1180" stroke-width="1.8" />
<line x1="276.93" y1="975" x2="71.93" y2="1180" stroke-width="1.8" />
<line x1="298.06" y1="975" x2="93.06" y2="1180" stroke-width="1.8" />
<line x1="319.19" y1="975" x2="114.19" y2="1180" stroke-width="1.8" />
<line x1="340.32" y1="975" x2="135.32" y2="1180" stroke-width="1.2" />
<line x1="361.45" y1="975" x2="156.45" y2="1180" stroke-width="1.2" />
<line x1="382.58" y1="975" x2="177.58" y2="1180" stroke-width="1.2" />
<line x1="403.71" y1="975" x2="198.71" y2="1180" stroke-width="1.2" />
<line x1="424.84" y1="975" x2="219.84" y2="1180" stroke-width="1.2" />
<line x1="445.97" y1="975" x2="240.97" y2="1180" stroke-width="1.2" />
<line x1="467.1" y1="975" x2="262.1" y2="1180" stroke-width="1.2" />
<line x1="488.23" y1="975" x2="283.23" y2="1180" stroke-width="1.2" />
<line x1="509.36" y1="975" x2="304.36" y2="1180" stroke-width="1.2" />
<line x1="530.49" y1="975" x2="325.49" y2="1180" stroke-width="1.2" />
<line x1="551.62" y1="975" x2="346.62" y2="1180" stroke-width="1.2" />
</g>
<polygon points="253.7,980.3 329.6,980.3 231.6,1078.3 156.8,1078.3" fill="#c0c0c0" stroke="none" stroke-width="0"/>
<line x1="253.7" y1="980.3" x2="156" y2="1078.3" stroke-width="0.9" />
<line x1="330.3" y1="980.3" x2="232.3" y2="1078.3" stroke-width="1.9" />
<line x1="330.3" y1="980.3" x2="280.3" y2="1030.3" stroke-width="2.8" />
<line x1="253.7" y1="980.3" x2="241" y2="993" stroke-width="2.6" />
<polygon points="330.6,980.3 339,980.3 271.3,1095 264.6,1090.6" fill="#96969a" stroke="none" stroke-width="0"/>
<line x1="330.6" y1="980.3" x2="264.6" y2="1090.6" stroke-width="1.4" />
<line x1="339" y1="980.3" x2="271.3" y2="1095" stroke-width="1.4" />
<path d="M14.4,980.3 L358,980.3 L358,1028.7 L353.4,1033.2 L329,1033.2 A6.5,8.1 0 1 0 329,1049.4 L331.4,1049.4 L331.4,1171.3 L40.3,1171.3 L40.3,1049.4 L42.7,1049.4 A6.5,8.1 0 1 0 42.7,1033.2 L19,1033.2 L14.4,1028.7 Z" stroke-width="3" fill="none" stroke-linejoin="miter"/>
<path d="M308.81,1171.3 A81.1,81.1 0 0 0 228.5,1078.9" stroke-width="3" fill="none" />
<path d="M154,1076.6 A91.7,91.7 0 0 0 62.35,1171.3" stroke-width="3" fill="none" />
<line x1="228.5" y1="1078.9" x2="154" y2="1076.6" stroke-width="1.3" />
<line x1="253.7" y1="980.3" x2="331.6" y2="902.4" stroke-width="2" />
<line x1="330.3" y1="980.3" x2="370.6" y2="940" stroke-width="2" />
<line x1="288.3" y1="877" x2="394.4" y2="983.1" stroke-width="2" />
<polygon points="322.4,911.1 302.07,897.49 308.79,890.77" fill="#000" stroke="none"/>
<polygon points="360.7,949.4 381.03,963.01 374.31,969.73" fill="#000" stroke="none"/>
<g transform="translate(335,909.4) rotate(45)" stroke-linecap="square" stroke-linejoin="miter" fill="none">
<path transform="translate(0,0) scale(2.3,2.3)" d="M0,-10 L4.2,-10 L1.2,0 M1.5,-4.9 L3.9,-4.9" stroke-width="1.9" vector-effect="non-scaling-stroke"/>
<path transform="translate(18.63,0) scale(2.3,2.3)" d="M0.9,-0.8 L-0.4,3.6" stroke-width="1.9" vector-effect="non-scaling-stroke"/>
<path transform="translate(28.52,0) scale(2.3,2.3)" d="M0,-10 L2.3,-10 A1.9,2.35 0 0 1 2.3,-5.3 L1.2,-5.3 M2.3,-5.3 A1.9,2.65 0 0 1 2.3,0 L0,0" stroke-width="1.9" vector-effect="non-scaling-stroke"/>
</g>
<line x1="265.3" y1="1089.7" x2="233.1" y2="1142.2" stroke-width="1.6" />
<line x1="270.8" y1="1095.2" x2="240.3" y2="1146.1" stroke-width="1.6" />
<line x1="198.3" y1="1106.7" x2="287.5" y2="1160.1" stroke-width="1.5" />
<polygon points="239.9,1131.6 216.87,1123.35 221.75,1115.2" fill="#000" stroke="none"/>
<polygon points="246.4,1135.5 269.43,1143.75 264.55,1151.9" fill="#000" stroke="none"/>
<g transform="translate(254.8,1132.2) rotate(31)" stroke-linecap="square" stroke-linejoin="miter" fill="none">
<path transform="translate(0,0) scale(2.3,2.3)" d="M3.5,-8.3 A3.3,3.3 0 1 1 3.5,-1.7 A3.3,3.3 0 1 1 3.5,-8.3 M2.4,0.2 L4.6,-10.2" stroke-width="1.9" vector-effect="non-scaling-stroke"/>
<path transform="translate(23.92,0) scale(2.3,2.3)" d="M0,-7.9 A2.1,2.1 0 1 1 3.92,-6.85 L0,0 L4.2,0" stroke-width="1.9" vector-effect="non-scaling-stroke"/>
</g>
<g clip-path="url(#cF)">
<line x1="485.4" y1="975" x2="280.4" y2="1180" stroke-width="1.8" />
<line x1="506.54" y1="975" x2="301.54" y2="1180" stroke-width="1.8" />
<line x1="527.68" y1="975" x2="322.68" y2="1180" stroke-width="1.8" />
<line x1="548.82" y1="975" x2="343.82" y2="1180" stroke-width="1.15" />
<line x1="569.96" y1="975" x2="364.96" y2="1180" stroke-width="1.15" />
<line x1="591.1" y1="975" x2="386.1" y2="1180" stroke-width="1.15" />
<line x1="612.24" y1="975" x2="407.24" y2="1180" stroke-width="1.15" />
<line x1="633.38" y1="975" x2="428.38" y2="1180" stroke-width="1.15" />
<line x1="654.52" y1="975" x2="449.52" y2="1180" stroke-width="1.15" />
<line x1="675.66" y1="975" x2="470.66" y2="1180" stroke-width="1.15" />
<line x1="696.8" y1="975" x2="491.8" y2="1180" stroke-width="0.5" />
<line x1="717.94" y1="975" x2="512.94" y2="1180" stroke-width="1.15" />
<line x1="739.08" y1="975" x2="534.08" y2="1180" stroke-width="1.15" />
<line x1="760.22" y1="975" x2="555.22" y2="1180" stroke-width="1.15" />
<line x1="781.36" y1="975" x2="576.36" y2="1180" stroke-width="0.01" />
<line x1="802.5" y1="975" x2="597.5" y2="1180" stroke-width="1.15" />
<line x1="823.64" y1="975" x2="618.64" y2="1180" stroke-width="1.15" />
<line x1="844.78" y1="975" x2="639.78" y2="1180" stroke-width="1.15" />
<line x1="865.92" y1="975" x2="660.92" y2="1180" stroke-width="1.15" />
<line x1="887.06" y1="975" x2="682.06" y2="1180" stroke-width="1.15" />
<line x1="908.2" y1="975" x2="703.2" y2="1180" stroke-width="1.15" />
<line x1="929.34" y1="975" x2="724.34" y2="1180" stroke-width="1.15" />
<line x1="950.48" y1="975" x2="745.48" y2="1180" stroke-width="1.15" />
<line x1="971.62" y1="975" x2="766.62" y2="1180" stroke-width="1.15" />
<line x1="992.76" y1="975" x2="787.76" y2="1180" stroke-width="1.15" />
</g>
<polygon points="693.7,980.3 767.9,980.3 670.2,1078 596.8,1078" fill="#c0c0c0" stroke="none" stroke-width="0"/>
<line x1="693.7" y1="980.3" x2="596.3" y2="1078" stroke-width="1" />
<line x1="768.5" y1="980.3" x2="670.8" y2="1078" stroke-width="2.2" />
<line x1="760" y1="994.8" x2="677.3" y2="1077.5" stroke-width="1.9" />
<polygon points="768.6,980.3 778.2,980.3 711.3,1094.6 703.6,1089.2" fill="#96969a" stroke="none" stroke-width="0"/>
<line x1="768.6" y1="980.3" x2="703.6" y2="1089.2" stroke-width="1.4" />
<line x1="778.2" y1="980.3" x2="711.3" y2="1094.6" stroke-width="1.4" />
<path d="M453.5,980.3 L797.1,980.3 L797.1,1028.7 L792.5,1033.2 L768.1,1033.2 A6.5,8.1 0 1 0 768.1,1049.4 L770.5,1049.4 L770.5,1171.3 L479.4,1171.3 L479.4,1049.4 L481.8,1049.4 A6.5,8.1 0 1 0 481.8,1033.2 L458.1,1033.2 L453.5,1028.7 Z" stroke-width="3" fill="none" stroke-linejoin="miter"/>
<path d="M748.37,1171.3 A83.1,83.1 0 0 0 665.9,1078" stroke-width="3" fill="none" />
<path d="M590.7,1076.9 A89,89 0 0 0 501.86,1171.3" stroke-width="3" fill="none" />
<line x1="665.9" y1="1078" x2="590.7" y2="1076.9" stroke-width="2" />
<line x1="694.8" y1="979.4" x2="742.6" y2="931.5" stroke-width="1.6" />
<line x1="779.1" y1="979.4" x2="805.3" y2="934" stroke-width="1.2" />
<line x1="799" y1="979.4" x2="832" y2="979.4" stroke-width="1.5" />
<path d="M756.4,979.4 A61.6,61.6 0 0 0 738.4,935.8" stroke-width="1.5" fill="none" />
<path d="M826.1,979.4 A47,47 0 0 0 803.3,939.1" stroke-width="1.5" fill="none" />
<polygon points="756.4,979.4 753.23,967.5 758.73,967.31" fill="#000" stroke="none"/>
<polygon points="738.4,935.8 748.22,943.22 744.01,946.76" fill="#000" stroke="none"/>
<polygon points="826.1,979.4 822.73,967.56 828.22,967.27" fill="#000" stroke="none"/>
<polygon points="803.3,939.1 814.54,944.13 811.23,948.52" fill="#000" stroke="none"/>
<g transform="translate(751.2,944.4) rotate(67)" stroke-linecap="square" stroke-linejoin="miter" fill="none">
<path transform="translate(0,0) scale(1.08,1.02)" d="M2.5,-10 L0,-2.3 L5.8,-2.3 M4.2,-5.3 L4.2,0" stroke-width="1.45" vector-effect="non-scaling-stroke"/>
<path transform="translate(10.37,0) scale(1.08,1.02)" d="M4.2,-10 L0,-10 L0,-5.8 L2.1,-5.8 A2.1,2.9 0 0 1 2.1,0 L0,0" stroke-width="1.45" vector-effect="non-scaling-stroke"/>
<path transform="translate(19.12,0) scale(1.08,1.02)" d="M1.3,-10 A1.2,1.2 0 1 1 1.3,-7.6 A1.2,1.2 0 1 1 1.3,-10" stroke-width="1.45" vector-effect="non-scaling-stroke"/>
</g>
<g transform="translate(817.4,944.4) rotate(60.5)" stroke-linecap="square" stroke-linejoin="miter" fill="none">
<path transform="translate(0,0) scale(1.08,1.02)" d="M4.2,-10 L0,-10 L0,-5.8 L2.1,-5.8 A2.1,2.9 0 0 1 2.1,0 L0,0" stroke-width="1.45" vector-effect="non-scaling-stroke"/>
<path transform="translate(8.91,0) scale(1.08,1.02)" d="M0.5,0 C2.6,-1.4 4.2,-4 4.2,-7.1 A2.1,2.9 0 1 0 0,-7.1 A2.1,2.9 0 1 0 4.2,-7.1" stroke-width="1.45" vector-effect="non-scaling-stroke"/>
<path transform="translate(17.82,0) scale(1.08,1.02)" d="M1.3,-10 A1.2,1.2 0 1 1 1.3,-7.6 A1.2,1.2 0 1 1 1.3,-10" stroke-width="1.45" vector-effect="non-scaling-stroke"/>
</g>
</svg>
</body></html>
